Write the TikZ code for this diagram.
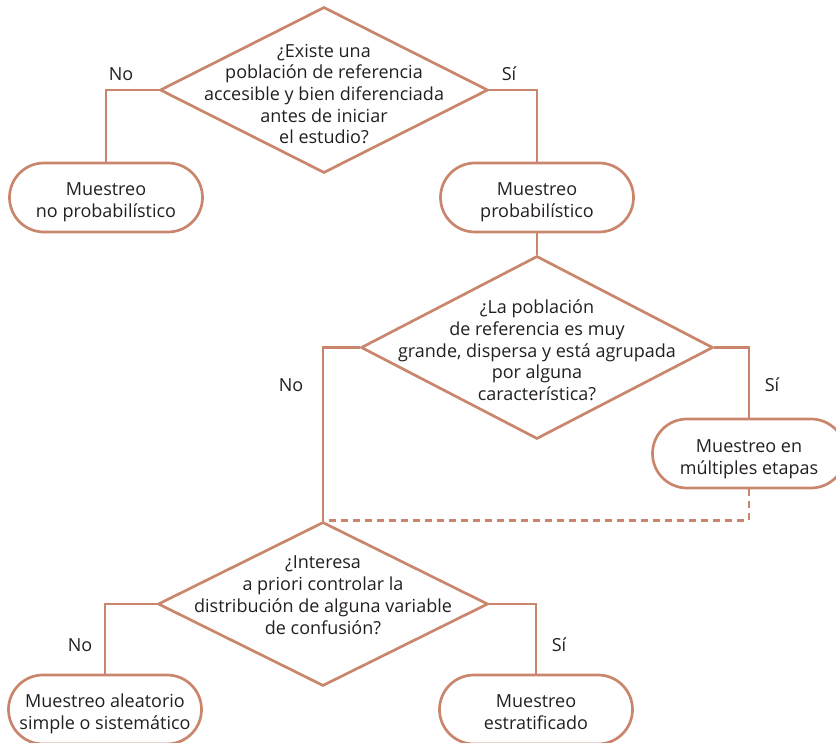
\documentclass[tikz,border=0pt]{standalone}
\usepackage{fontspec}
\setmainfont{Open Sans}
\usetikzlibrary{shapes.geometric,shapes.misc}

\definecolor{flowline}{RGB}{201,134,108}
\definecolor{flowtext}{RGB}{35,31,32}

% text centred in a node, without widening the node
\newcommand{\qtext}[2][0pt]{\smash{\raisebox{#1}{\makebox[0pt]{\begin{tabular}{@{}c@{}}#2\end{tabular}}}}}

\tikzset{
  flow/.style={draw=flowline, line width=2.7pt},
  decision/.style={flow, diamond, inner sep=0pt},
  outcome/.style={flow, rounded rectangle, minimum width=193pt, minimum height=69pt, inner sep=0pt}
}

\begin{document}
\begin{tikzpicture}[x=1pt, y=-1pt, font=\fontsize{18}{21.7}\selectfont, text=flowtext]

    \useasboundingbox (0,0) rectangle (836,743);

    % Decision nodes
    \node[decision, minimum width=328pt, minimum height=166pt] (d1) at (324, 90)
        {\qtext[-10.5pt]{¿Existe una\\población de referencia\\accesible y bien diferenciada\\antes de iniciar\\el estudio?}};
    \node[decision, minimum width=352pt, minimum height=183pt] (d2) at (537, 347.5)
        {\qtext[-9.5pt]{¿La población\\de referencia es muy\\grande, dispersa y está agrupada\\por alguna\\característica?}};
    \node[decision, minimum width=330pt, minimum height=164pt] (d3) at (323, 604)
        {\qtext[2.5pt]{¿Interesa\\a priori controlar la\\distribución de alguna variable\\de confusión?}};

    % Outcome nodes
    \node[outcome] (b1) at (106, 197.5) {\qtext[-9pt]{Muestreo\\no probabilístico}};
    \node[outcome] (b2) at (537, 197.5) {\qtext[-9pt]{Muestreo\\probabilístico}};
    \node[outcome] (b3) at (749, 453.5) {\qtext[-10pt]{Muestreo en\\múltiples etapas}};
    \node[outcome] (b4) at (105, 709.5) {\qtext[-9pt]{Muestreo aleatorio\\simple o sistemático}};
    \node[outcome] (b5) at (536, 709.5) {\qtext[-9pt]{Muestreo\\estratificado}};

    % Answer labels
    \node (no1) at (121, 74) {No};
    \node (si1) at (509, 74) {Sí};
    \node (no2) at (291, 385) {No};
    \node (si2) at (772, 385) {Sí};
    \node (no3) at (80, 645) {No};
    \node (si3) at (559, 645) {Sí};

    % Connect decisions to outcomes
    \draw[flow] (d1.west) -| (b1.north);
    \draw[flow] (d1.east) -| (b2.north);
    \draw[flow] (b2.south) -- (d2.north);
    \draw[flow] (d2.west) -| (d3.north);
    \draw[flow] (d2.east) -| (b3.north);
    \draw[flow, dash pattern=on 7pt off 5pt] (b3.south) |- (d3.north);
    \draw[flow] (d3.west) -| (b4.north);
    \draw[flow] (d3.east) -| (b5.north);

\end{tikzpicture}
\end{document}
